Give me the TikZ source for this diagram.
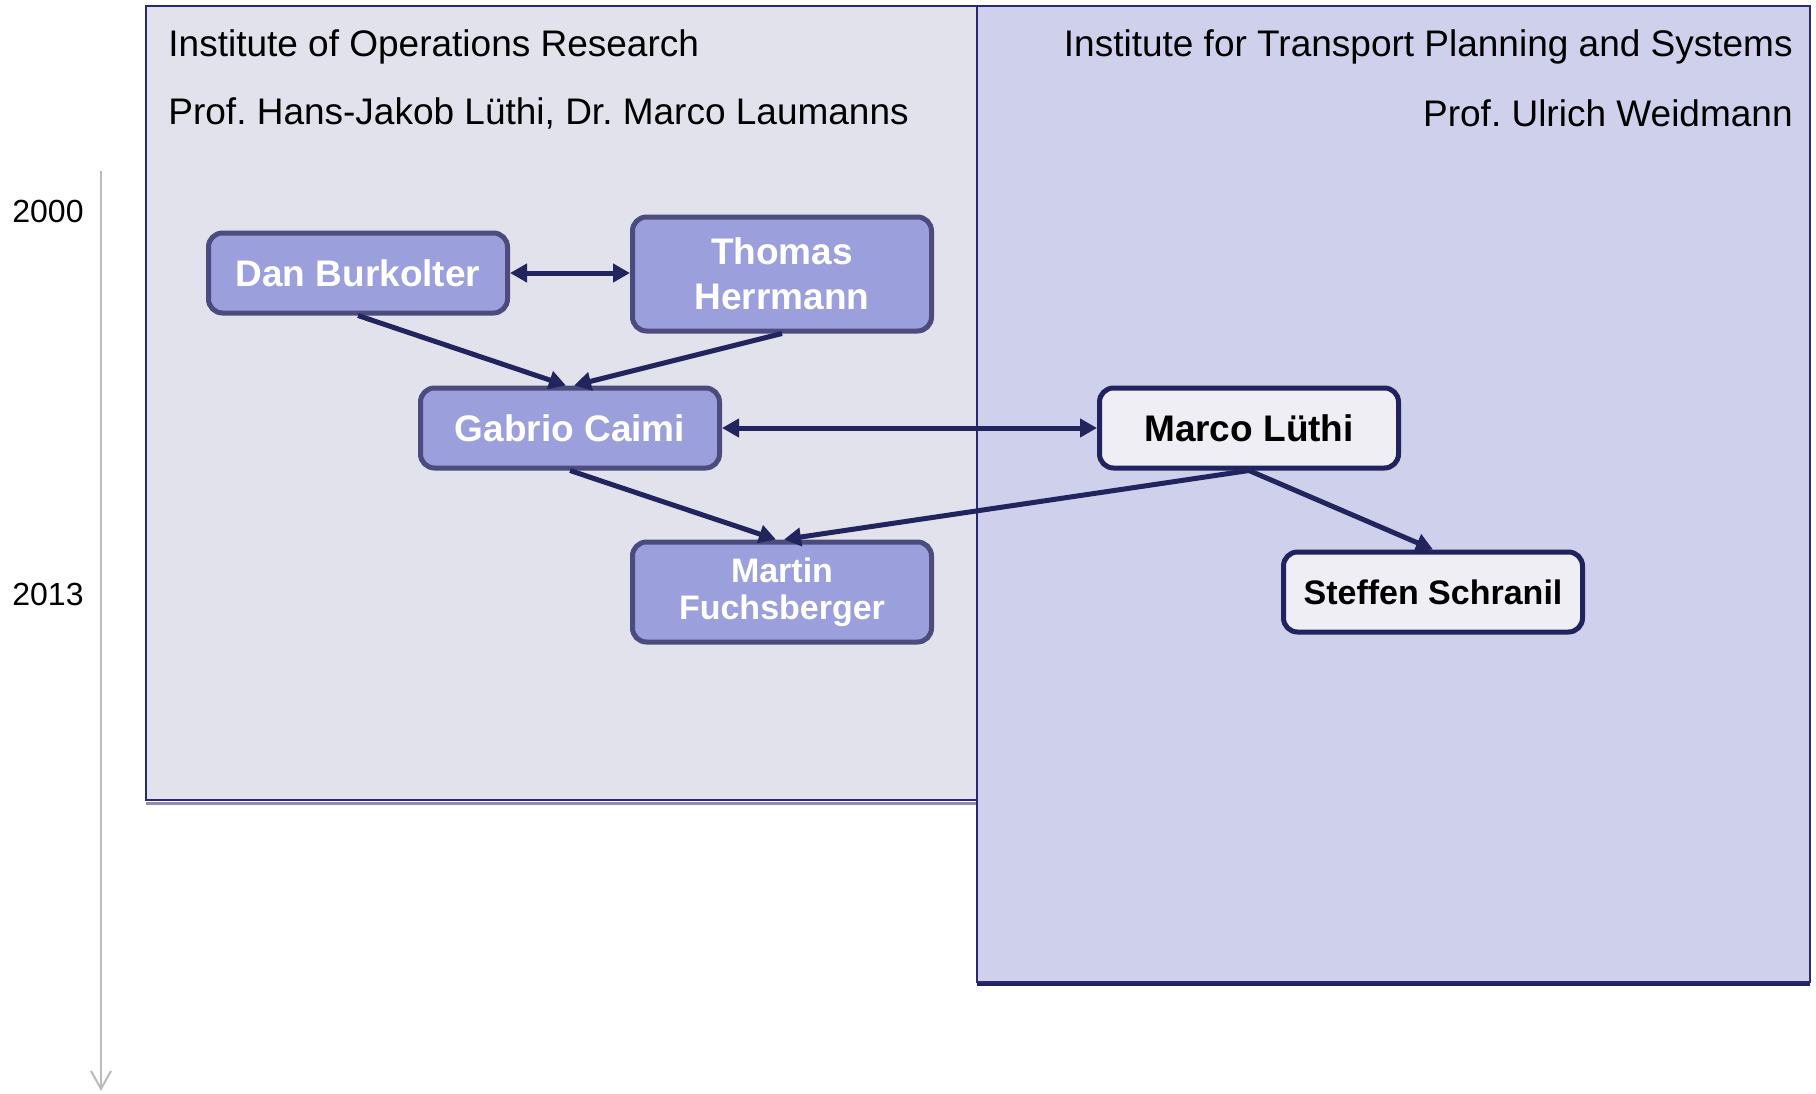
\documentclass[tikz,border=0pt]{standalone}
\usepackage{fontspec}
\setmainfont{Liberation Sans}
\usetikzlibrary{arrows.meta}
\definecolor{leftbg}{HTML}{E2E2EC}
\definecolor{rightbg}{HTML}{CFD0EC}
\definecolor{boxline}{HTML}{2A2A72}
\definecolor{nodefill}{HTML}{9B9FDC}
\definecolor{nodeline}{HTML}{4B4B7D}
\definecolor{lightfill}{HTML}{EEEEF4}
\definecolor{darkline}{HTML}{20235E}
\definecolor{arrowcol}{HTML}{22245E}
\definecolor{timecol}{HTML}{BBBBBB}
\definecolor{shadowcol}{HTML}{8C8CB4}
\frenchspacing
\begin{document}
\begin{tikzpicture}[x=0.5pt,y=-0.5pt,
  person/.style={draw=nodeline, line width=2.5pt, fill=nodefill, rounded corners=7pt,
    minimum width=149.5pt, minimum height=40pt, align=center, text=white,
    font=\fontsize{18.5}{22.5}\selectfont\bfseries, inner sep=0pt},
  lperson/.style={person, draw=darkline, fill=lightfill, text=black},
  arr/.style={draw=arrowcol, line width=2.5pt, -{Triangle[length=8.5pt,width=9pt]}},
  darr/.style={arr, {Triangle[length=8.5pt,width=9pt]}-{Triangle[length=8.5pt,width=9pt]}},
  title/.style={font=\fontsize{18.5}{22}\selectfont, inner sep=0pt},
  year/.style={font=\fontsize{16}{19}\selectfont, inner sep=0pt},
  inst/.style={draw=boxline, line width=1pt}
]
\useasboundingbox (0,0) rectangle (1816,1093);
\fill[white] (0,0) rectangle (1816,1093);
% institute boxes
\draw[shadowcol, line width=1.5pt] (146,803) -- (977,803);
\draw[inst, fill=leftbg] (146,6) rectangle (977,800);
\draw[darkline, line width=2.5pt] (977,983) -- (1810,983);
\draw[inst, fill=rightbg] (977,6) rectangle (1810,982);
% titles
\node[title, anchor=west] (t1) at (168,47) {Institute of Operations Research};
\node[title, anchor=west] (t2) at (168,113) {Prof. Hans-Jakob Lüthi, Dr. Marco Laumanns};
\node[title, anchor=east] (t3) at (1793,47) {Institute for Transport Planning and Systems};
\node[title, anchor=east] (t4) at (1793,113) {Prof. Ulrich Weidmann};
% timeline
\coordinate (tl0) at (101,171);
\coordinate (tl1) at (101,1091);
\draw[timecol, line width=1pt, -{Straight Barb[length=9pt,width=10pt]}] (tl0) -- (tl1);
\node[year] (y2000) at (48,211) {2000};
\node[year] (y2013) at (48,594) {2013};
% persons
\node[person] (dan) at (358,273) {Dan Burkolter};
\node[person, minimum height=57pt] (thomas) at (782,274) {Thomas\\Herrmann};
\node[person] (gabrio) at (570,428) {Gabrio Caimi};
\node[person, minimum height=50pt, font=\fontsize{17}{18.5}\selectfont\bfseries] (martin) at (782,592) {Martin\\Fuchsberger};
\node[lperson] (marco) at (1249,428) {Marco Lüthi};
\node[lperson, font=\fontsize{17}{20}\selectfont\bfseries] (steffen) at (1433,592) {Steffen Schranil};
% connectors
\draw[darr] (dan.east) -- (thomas.west |- dan.east);
\draw[arr] (dan.south) -- ([xshift=-2pt]gabrio.north);
\draw[arr] (thomas.south) -- ([xshift=2pt]gabrio.north);
\draw[darr] (gabrio.east) -- (marco.west);
\draw[arr] (gabrio.south) -- ([xshift=-3pt]martin.north);
\draw[arr] (marco.south) -- ([xshift=1pt]martin.north);
\draw[arr] (marco.south) -- (steffen.north);
\end{tikzpicture}
\end{document}
